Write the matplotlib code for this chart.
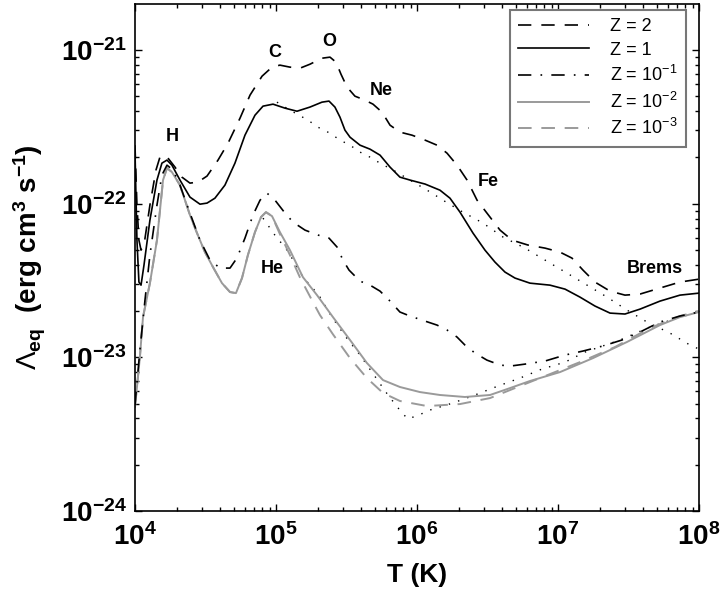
import numpy as np
import matplotlib
matplotlib.use("Agg")
import matplotlib.pyplot as plt
from matplotlib.ticker import LogLocator, FuncFormatter, NullFormatter

plt.rcParams['font.family'] = 'Liberation Sans'
plt.rcParams['mathtext.fontset'] = 'custom'
plt.rcParams['mathtext.rm'] = 'Liberation Sans'
plt.rcParams['mathtext.it'] = 'Liberation Sans:italic'
plt.rcParams['mathtext.bf'] = 'Liberation Sans:bold'

# log10 T and log10 Lambda
logT_z2 = [4.000, 4.014, 4.028, 4.043, 4.064, 4.106, 4.149, 4.177, 4.199, 4.234, 4.284, 4.333,
           4.390, 4.447, 4.511, 4.589, 4.660, 4.745, 4.816, 4.901, 4.972, 5.028, 5.099, 5.170,
           5.241, 5.326, 5.383, 5.426, 5.461, 5.504, 5.560, 5.631, 5.688, 5.752, 5.809, 5.879,
           5.965, 6.057, 6.142, 6.213, 6.284, 6.355, 6.426, 6.496, 6.589, 6.674, 6.787, 6.908,
           7.014, 7.099, 7.177, 7.262, 7.369, 7.475, 7.582, 7.723, 7.865, 8.000]
logL_z2 = [-21.619, -22.009, -22.237, -22.302, -22.269, -22.009, -21.781, -21.697, -21.684, -21.703,
           -21.762, -21.827, -21.866, -21.859, -21.820, -21.716, -21.606, -21.443, -21.293, -21.170,
           -21.111, -21.098, -21.111, -21.118, -21.092, -21.053, -21.046, -21.079, -21.157, -21.241,
           -21.300, -21.326, -21.352, -21.404, -21.489, -21.534, -21.554, -21.586, -21.619, -21.671,
           -21.749, -21.846, -21.977, -22.061, -22.172, -22.237, -22.269, -22.289, -22.315, -22.354,
           -22.432, -22.510, -22.569, -22.595, -22.588, -22.549, -22.510, -22.491]

logT_z1 = [4.000, 4.014, 4.028, 4.043, 4.064, 4.106, 4.156, 4.191, 4.227, 4.262, 4.319, 4.390,
           4.461, 4.511, 4.567, 4.638, 4.709, 4.780, 4.851, 4.908, 4.979, 5.064, 5.149, 5.241,
           5.326, 5.376, 5.418, 5.454, 5.489, 5.525, 5.596, 5.667, 5.738, 5.809, 5.879, 5.950,
           6.057, 6.163, 6.234, 6.305, 6.397, 6.482, 6.553, 6.624, 6.695, 6.801, 6.943, 7.050,
           7.156, 7.262, 7.369, 7.475, 7.582, 7.723, 7.865, 8.000]
logL_z1 = [-21.651, -22.237, -22.510, -22.530, -22.399, -22.107, -21.846, -21.736, -21.716, -21.749,
           -21.846, -21.957, -22.003, -21.996, -21.964, -21.879, -21.736, -21.554, -21.424, -21.365,
           -21.352, -21.378, -21.398, -21.371, -21.339, -21.332, -21.371, -21.437, -21.521, -21.567,
           -21.619, -21.645, -21.684, -21.762, -21.827, -21.846, -21.872, -21.912, -21.964, -22.055,
           -22.191, -22.302, -22.380, -22.445, -22.484, -22.517, -22.530, -22.556, -22.608, -22.666,
           -22.712, -22.718, -22.686, -22.634, -22.595, -22.582]

logT_z01 = [4.000, 4.035, 4.071, 4.106, 4.156, 4.191, 4.227, 4.270, 4.319, 4.390, 4.461, 4.532,
            4.603, 4.674, 4.723, 4.780, 4.837, 4.887, 4.936, 4.993, 5.064, 5.121, 5.206, 5.298,
            5.376, 5.433, 5.475, 5.518, 5.596, 5.667, 5.738, 5.809, 5.879, 5.950, 6.057, 6.142,
            6.213, 6.284, 6.340, 6.411, 6.496, 6.589, 6.660, 6.766, 6.908, 7.050, 7.177, 7.319,
            7.454, 7.582, 7.723, 7.865, 8.000]
logL_z01 = [-23.310, -22.953, -22.627, -22.334, -22.009, -21.814, -21.749, -21.781, -21.879, -22.061,
            -22.237, -22.367, -22.419, -22.419, -22.354, -22.224, -22.074, -21.977, -21.931, -21.977,
            -22.061, -22.120, -22.172, -22.204, -22.224, -22.282, -22.367, -22.432, -22.504, -22.530,
            -22.569, -22.634, -22.705, -22.731, -22.764, -22.790, -22.822, -22.868, -22.920, -22.972,
            -23.018, -23.050, -23.057, -23.044, -23.024, -22.985, -22.959, -22.926, -22.887, -22.835,
            -22.770, -22.731, -22.705]

logT_z001 = [4.000, 4.035, 4.057, 4.106, 4.156, 4.199, 4.227, 4.262, 4.319, 4.390, 4.440, 4.496,
             4.553, 4.617, 4.674, 4.716, 4.759, 4.801, 4.851, 4.894, 4.929, 4.972, 5.028, 5.099,
             5.191, 5.291, 5.404, 5.525, 5.645, 5.759, 5.879, 6.021, 6.163, 6.340, 6.518, 6.660,
             6.801, 7.014, 7.248, 7.489, 7.723, 7.865, 8.000]
logL_z001 = [-23.323, -22.998, -22.738, -22.517, -22.237, -21.846, -21.768, -21.794, -21.879, -22.074,
             -22.191, -22.315, -22.412, -22.517, -22.575, -22.582, -22.484, -22.334, -22.185, -22.087,
             -22.055, -22.081, -22.185, -22.302, -22.478, -22.595, -22.738, -22.887, -23.037, -23.148,
             -23.193, -23.226, -23.245, -23.258, -23.245, -23.200, -23.154, -23.096, -23.005, -22.900,
             -22.790, -22.738, -22.705]

logT_z0001 = [4.000, 4.035, 4.057, 4.106, 4.156, 4.199, 4.227, 4.262, 4.319, 4.390, 4.440, 4.496,
              4.553, 4.617, 4.674, 4.716, 4.759, 4.801, 4.851, 4.894, 4.929, 4.972, 5.028, 5.099,
              5.170, 5.262, 5.312, 5.404, 5.525, 5.645, 5.759, 5.879, 6.071, 6.305, 6.518, 6.730,
              6.943, 7.156, 7.404, 7.652, 7.865, 8.000]
logL_z0001 = [-23.323, -22.998, -22.738, -22.517, -22.237, -21.846, -21.768, -21.794, -21.879, -22.074,
              -22.191, -22.315, -22.412, -22.517, -22.575, -22.582, -22.484, -22.334, -22.185, -22.087,
              -22.055, -22.081, -22.198, -22.334, -22.480, -22.640, -22.725, -22.850, -23.005, -23.135,
              -23.232, -23.284, -23.317, -23.304, -23.265, -23.187, -23.109, -23.031, -22.933, -22.809,
              -22.731, -22.699]

# dotted reference curves (no legend entry)
logT_dotA = [5.007, 5.099, 5.227, 5.298, 5.383, 5.454, 5.525, 5.596, 5.667, 5.738, 5.844, 5.950,
             6.035, 6.106, 6.184, 6.326, 6.468, 6.610, 6.766, 6.908, 7.064, 7.206, 7.348, 7.489,
             7.631, 7.794, 7.936, 8.000]
logL_dotA = [-21.339, -21.391, -21.456, -21.502, -21.541, -21.586, -21.619, -21.664, -21.697, -21.736,
             -21.788, -21.846, -21.892, -21.931, -21.977, -22.055, -22.126, -22.217, -22.289, -22.367,
             -22.452, -22.530, -22.608, -22.692, -22.770, -22.842, -22.920, -22.946]

logT_dotB = [4.908, 5.007, 5.064, 5.113, 5.191, 5.255, 5.312, 5.397, 5.496, 5.596, 5.695, 5.794,
             5.894, 5.936, 6.014, 6.092, 6.255, 6.411, 6.574, 6.730, 6.887, 7.050, 7.191, 7.440,
             7.652, 7.865, 8.000]
logL_dotB = [-22.094, -22.224, -22.282, -22.354, -22.478, -22.543, -22.608, -22.738, -22.868, -22.985,
             -23.115, -23.245, -23.362, -23.401, -23.375, -23.343, -23.297, -23.245, -23.187, -23.135,
             -23.076, -23.031, -22.966, -22.887, -22.803, -22.738, -22.705]

ion_labels = ['H', 'C', 'O', 'Ne', 'Fe', 'He', 'Brems']
ion_logT = [4.262, 4.993, 5.376, 5.745, 6.504, 4.972, 7.688]
ion_logL = [-21.560, -21.014, -20.942, -21.261, -21.853, -22.419, -22.419]

xticks = [1e4, 1e5, 1e6, 1e7, 1e8]
yticks = [1e-24, 1e-23, 1e-22, 1e-21]

gray = '#9a9a9a'

fig = plt.figure(figsize=(7.21, 5.95), dpi=100)
ax = fig.add_axes([0.1872, 0.1412, 0.7823, 0.8521])

def p(lt, ll):
    return 10 ** np.array(lt), 10 ** np.array(ll)

ax.plot(*p(logT_dotA, logL_dotA), color='black', lw=1.0, dashes=(1, 6))
ax.plot(*p(logT_dotB, logL_dotB), color='black', lw=1.0, dashes=(1, 6))
ax.plot(*p(logT_z001, logL_z001), color=gray, lw=1.4, label='Z = 10$^{\\mathrm{-2}}$')
ax.plot(*p(logT_z0001, logL_z0001), color=gray, lw=1.4, dashes=(7, 5), label='Z = 10$^{\\mathrm{-3}}$')
ax.plot(*p(logT_z01, logL_z01), color='black', lw=1.2, dashes=(8, 5.5, 1, 5.5), label='Z = 10$^{\\mathrm{-1}}$')
ax.plot(*p(logT_z1, logL_z1), color='black', lw=1.2, label='Z = 1')
ax.plot(*p(logT_z2, logL_z2), color='black', lw=1.2, dashes=(8, 6), label='Z = 2')

for lab, lt, ll in zip(ion_labels, ion_logT, ion_logL):
    ax.text(10 ** lt, 10 ** ll, lab, fontsize=13, fontweight='bold', ha='center', va='center')

ax.set_xscale('log')
ax.set_yscale('log')
ax.set_xlim(1e4, 1e8)
ax.set_ylim(1e-24, 10 ** -20.7)

ax.set_xticks(xticks)
ax.set_yticks(yticks)
ax.xaxis.set_minor_locator(LogLocator(base=10, subs=np.arange(2, 10), numticks=20))
ax.yaxis.set_minor_locator(LogLocator(base=10, subs=np.arange(2, 10), numticks=20))
fmt = FuncFormatter(lambda v, pos: r'$\mathbf{10^{%d}}$' % int(round(np.log10(v))))
ax.xaxis.set_major_formatter(fmt)
ax.yaxis.set_major_formatter(fmt)
ax.xaxis.set_minor_formatter(NullFormatter())
ax.yaxis.set_minor_formatter(NullFormatter())
ax.tick_params(which='both', direction='in', top=True, right=True, width=1)
ax.tick_params(which='major', length=5, labelsize=20)
ax.tick_params(which='minor', length=3)
ax.tick_params(axis='x', which='major', pad=9)
ax.tick_params(axis='y', which='major', pad=6)
for s in ax.spines.values():
    s.set_linewidth(1.2)

ax.set_xlabel('T (K)', fontsize=19, fontweight='bold')
ax.xaxis.set_label_coords(0.5, -0.102)
ax.set_ylabel(r'$\Lambda_{\mathbf{eq}}$  (erg cm$^{\mathbf{3}}$ s$^{\mathbf{-1}}$)',
              fontsize=20, fontweight='bold')
ax.yaxis.set_label_coords(-0.155, 0.5)

handles, labels = ax.get_legend_handles_labels()
order = [4, 3, 2, 0, 1]
leg = ax.legend([handles[i] for i in order], [labels[i] for i in order],
                loc='upper right', bbox_to_anchor=(0.977, 0.988), borderaxespad=0,
                fontsize=13, handlelength=3.9, handletextpad=1.2, labelspacing=0.36,
                fancybox=False, framealpha=1, borderpad=0.45)
leg.get_frame().set_edgecolor('#777777')
leg.get_frame().set_linewidth(1.5)

fig.savefig('out.png', dpi=100)
